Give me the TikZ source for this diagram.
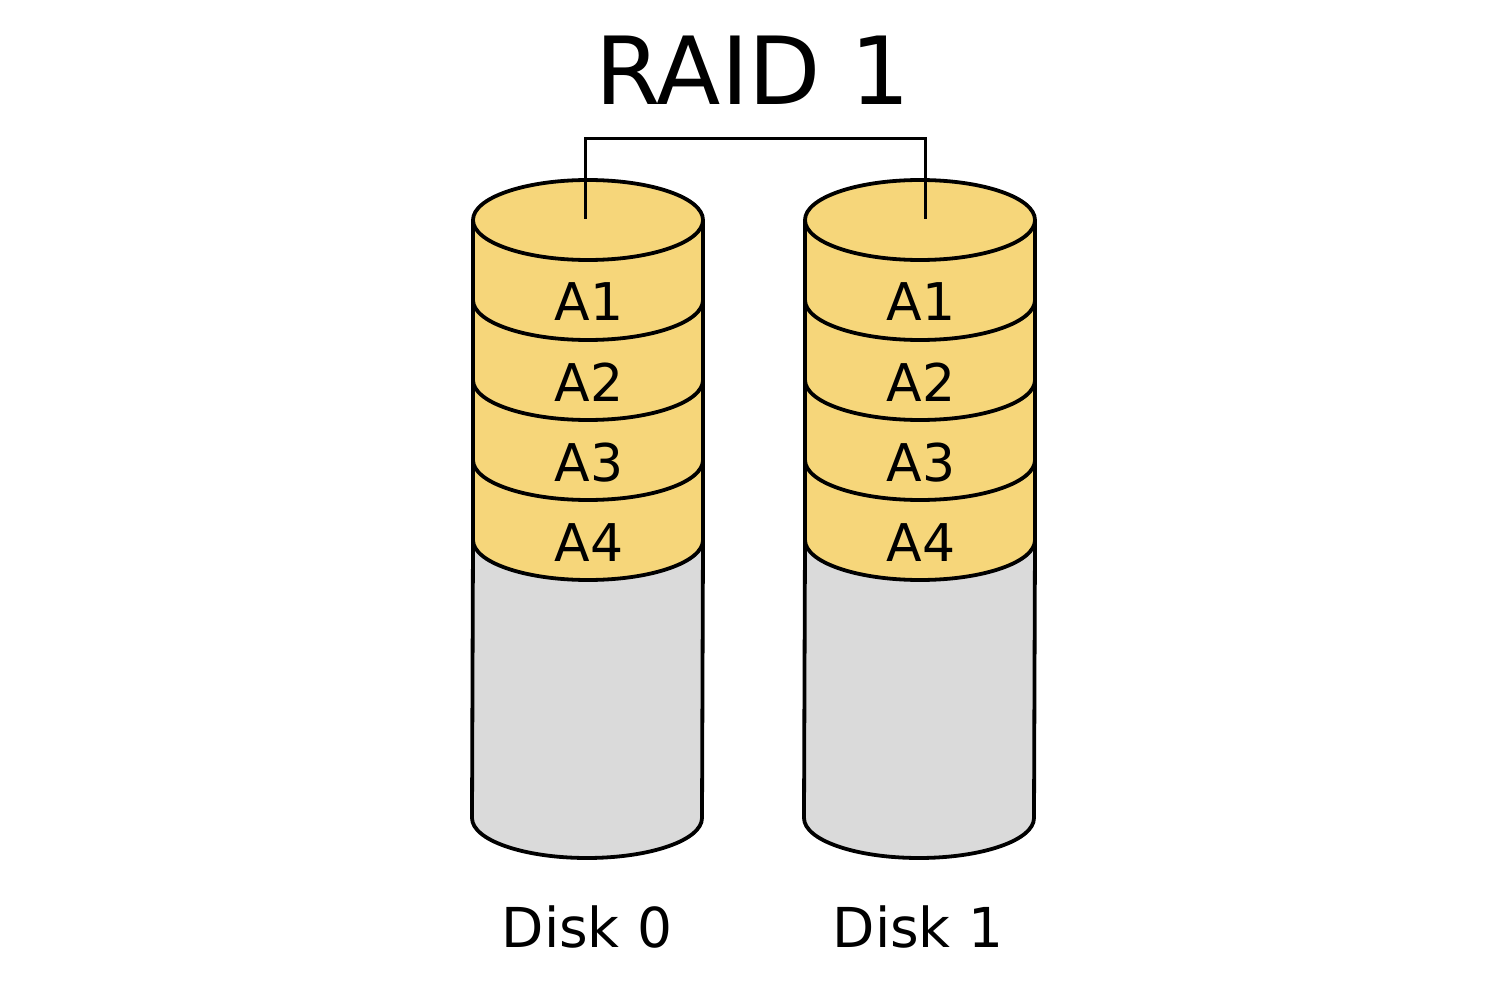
\documentclass[tikz,border=0pt]{standalone}
\usepackage{fontspec}
\setmainfont{DejaVu Sans}
\definecolor{band}{RGB}{246,214,122}
\definecolor{body}{RGB}{218,218,218}
\tikzset{
  outline/.style={draw=black, line width=1.9pt, line join=round},
  wire/.style={draw=black, line width=1.5pt},
  blocklabel/.style={anchor=base, inner sep=0pt, font=\fontsize{26}{31}\selectfont},
  disklabel/.style={anchor=base, inner sep=0pt, font=\fontsize{27.5}{33}\selectfont},
  titlelabel/.style={anchor=base, inner sep=0pt, font=\fontsize{47}{56}\selectfont},
}
\begin{document}
\begin{tikzpicture}[x=0.5pt,y=-0.5pt]
\useasboundingbox[fill=white] (0,0) rectangle (1500,1000);
\node[titlelabel] (title) at (753,105) {RAID 1};
\foreach \d/\cx/\lx in {0/588/587, 1/920/918}{
  % gray body
  \fill[body] (\cx-115,540) -- (\cx-116,818) arc[start angle=180,end angle=360,x radius=57.5pt,y radius=20pt] -- (\cx+115,540) -- cycle;
  \draw[outline] (\cx-115,540) -- (\cx-116,818) arc[start angle=180,end angle=360,x radius=57.5pt,y radius=20pt] -- (\cx+115,540);
  % bands, bottom to top
  \foreach \i in {4,3,2,1}{
    \pgfmathsetmacro{\yt}{220+80*(\i-1)}
    \pgfmathsetmacro{\yb}{220+80*\i}
    \fill[band] (\cx-115,\yt) -- (\cx-115,\yb) arc[start angle=180,end angle=360,x radius=57.5pt,y radius=20pt] -- (\cx+115,\yt) -- cycle;
    \draw[outline] (\cx-115,\yt) -- (\cx-115,\yb) arc[start angle=180,end angle=360,x radius=57.5pt,y radius=20pt] -- (\cx+115,\yt);
    \node[blocklabel] (a\d\i) at (\cx+1,\yb+21) {A\i};
  }
  \draw[outline, fill=band] (\cx,220) ellipse [x radius=57.5pt, y radius=20pt];
  \node[disklabel] (disk\d) at (\lx,947) {Disk \d};
}
\coordinate (top0) at (585,219);
\coordinate (top1) at (925,219);
\coordinate (bar) at (755,139);
\draw[wire] (top0) |- (bar) -| (top1);
\end{tikzpicture}
\end{document}
